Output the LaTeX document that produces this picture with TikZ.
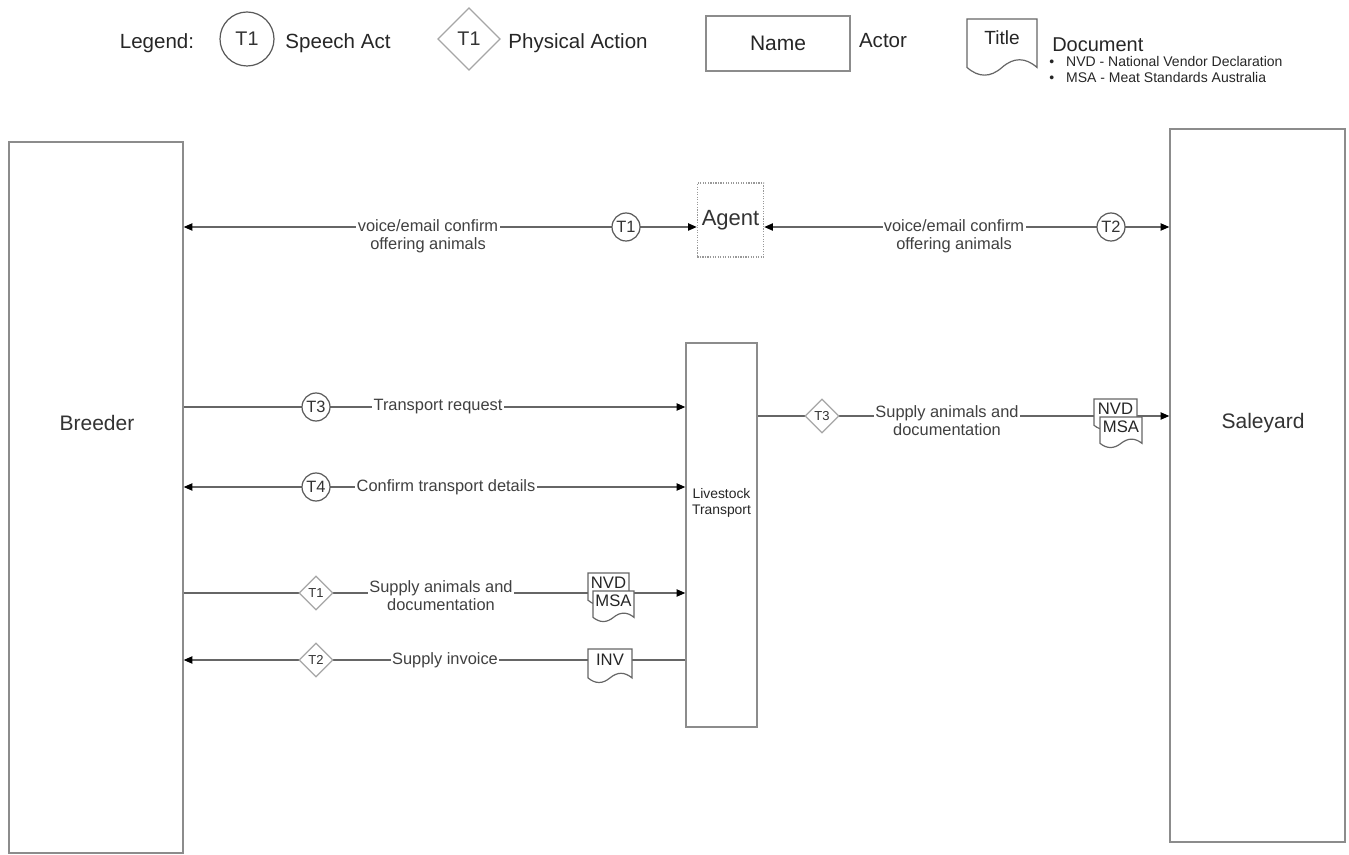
\documentclass[tikz,border=0pt]{standalone}
\usepackage{fontspec}
\setmainfont{Liberation Sans}
\usetikzlibrary{arrows.meta,shapes.geometric}

% document symbol: name, x, y, w, h, text
\newcommand{\docshape}[6]{%
  \begin{scope}[shift={(#2,#3)}]
    \filldraw[docline] (0,0) -- (#4,0) -- (#4,0.85*#5)
      .. controls (0.8333*#4,0.67*#5) and (0.6667*#4,0.67*#5) .. (0.5*#4,0.85*#5)
      .. controls (0.3333*#4,1.03*#5) and (0.1667*#4,1.03*#5) .. (0,0.85*#5) -- cycle;
    \node[doctext] (#1) at (0.5*#4,0.32*#5) {#6};
  \end{scope}}

\begin{document}
\begin{tikzpicture}[x=0.75pt, y=-0.75pt,
    actor/.style={draw=black!45, line width=1.1pt, fill=white, inner sep=0pt},
    agentbox/.style={draw=black!40, densely dotted, line width=0.9pt, minimum width=48.75pt, minimum height=55.5pt, font=\fontsize{16.5}{19}\selectfont, text=black!80},
    speech/.style={circle, draw=black!65, line width=0.9pt, fill=white, inner sep=0pt, minimum size=21pt, font=\fontsize{12.3}{14}\selectfont, text=black!80},
    physical/.style={diamond, draw=black!35, line width=0.9pt, fill=white, inner sep=0pt, minimum width=25.5pt, minimum height=25.5pt, font=\fontsize{9.75}{11}\selectfont, text=black!80},
    lbl/.style={fill=white, inner sep=1pt, align=center, font=\fontsize{12.3}{13.5}\selectfont, text=black!75},
    conn/.style={draw=black!60, line width=0.9pt, >={Triangle[length=6.5pt,width=5.5pt,color=black]}},
    docline/.style={draw=black!60, fill=white, line width=0.9pt},
    doctext/.style={inner sep=0pt, font=\fontsize{12.5}{14}\selectfont, text=black!85},
    actorname/.style={font=\fontsize{15.75}{18}\selectfont, text=black!80},
    legendtext/.style={font=\fontsize{15.4}{18}\selectfont, text=black!85}]
  \useasboundingbox (0,0) rectangle (1349,855);

  % legend
  \node[legendtext] (legend) at (157,43) {Legend:};
  \node[speech, minimum size=40.5pt, font=\fontsize{14.8}{17}\selectfont] (legspeech) at (247,39) {T1};
  \node[legendtext] (legspeechtxt) at (338,43) {Speech Act};
  \node[physical, minimum width=47pt, minimum height=47pt, font=\fontsize{14.8}{17}\selectfont] (legphys) at (469,39) {T1};
  \node[legendtext] (legphystxt) at (578,43) {Physical Action};
  \node[actor, minimum width=108pt, minimum height=41.25pt, font=\fontsize{15.75}{18}\selectfont, text=black!85] (legactor) at (778,43.5) {Name};
  \node[legendtext] (legactortxt) at (883,41) {Actor};
  \docshape{legdoc}{967}{19}{70}{57}{\fontsize{14.3}{16}\selectfont Title}
  \node[legendtext, anchor=west, inner sep=0pt, font=\fontsize{15}{17}\selectfont] (legdoctxt) at (1052,45) {Document};
  \node[anchor=west, inner sep=0pt, align=left, font=\fontsize{10.5}{12}\selectfont, text=black!85] (legabbr) at (1049,70)
    {\textbullet\hspace{9pt}NVD - National Vendor Declaration\\\textbullet\hspace{9pt}MSA - Meat Standards Australia};

  % actors
  \node[actor, minimum width=130.5pt, minimum height=533.25pt] (breeder) at (96,497.5) {};
  \node[actorname] (breederlbl) at (97,423) {Breeder};
  \node[actor, minimum width=131.25pt, minimum height=534.75pt] (saleyard) at (1257.5,485.5) {};
  \node[actorname] (saleyardlbl) at (1263,423) {Saleyard};
  \node[actor, minimum width=53.25pt, minimum height=288pt] (transport) at (721.5,535) {};
  \node[align=center, font=\fontsize{10.4}{12}\selectfont, text=black!85] (transportlbl) at (721.5,503) {Livestock\\Transport};
  \node[agentbox] (agent) at (730.5,220) {Agent};

  % rows
  \coordinate (rowa) at (0,227);
  \coordinate (rowb) at (0,407);
  \coordinate (rowc) at (0,487);
  \coordinate (rowd) at (0,593);
  \coordinate (rowe) at (0,660);
  \coordinate (rowf) at (0,416);

  \draw[conn,<->] (breeder.east |- rowa) -- (agent.west |- rowa);
  \draw[conn,<->] (agent.east |- rowa) -- (saleyard.west |- rowa);
  \draw[conn,->] (breeder.east |- rowb) -- (transport.west |- rowb);
  \draw[conn,<->] (breeder.east |- rowc) -- (transport.west |- rowc);
  \draw[conn,->] (breeder.east |- rowd) -- (transport.west |- rowd);
  \draw[conn,->] (transport.west |- rowe) -- (breeder.east |- rowe);
  \draw[conn,->] (transport.east |- rowf) -- (saleyard.west |- rowf);

  % transactions
  \node[lbl] (offera) at (428,236) {voice/email confirm\\offering animals};
  \node[speech] (ta) at (626,227) {T1};
  \node[lbl] (offerb) at (954,236) {voice/email confirm\\offering animals};
  \node[speech] (tb) at (1111,227) {T2};

  \node[speech] (tc) at (316,407) {T3};
  \node[lbl] (request) at (438,407) {Transport request};
  \node[speech] (td) at (316,487) {T4};
  \node[lbl] (confirm) at (446,487) {Confirm transport details};

  \node[physical] (te) at (316,593) {T1};
  \node[lbl] (supplya) at (441,596) {Supply animals and\\documentation};
  \docshape{nvda}{588}{573}{41}{32}{NVD}
  \docshape{msaa}{593}{591}{41}{31}{MSA}

  \node[physical] (tf) at (316,660) {T2};
  \node[lbl] (invoice) at (445,660) {Supply invoice};
  \docshape{inv}{588}{649}{44}{34}{INV}

  \node[physical] (tg) at (822,416) {T3};
  \node[lbl] (supplyb) at (947,421) {Supply animals and\\documentation};
  \docshape{nvdb}{1094}{399}{43}{31}{NVD}
  \docshape{msab}{1100}{417}{42}{31}{MSA}
\end{tikzpicture}
\end{document}
